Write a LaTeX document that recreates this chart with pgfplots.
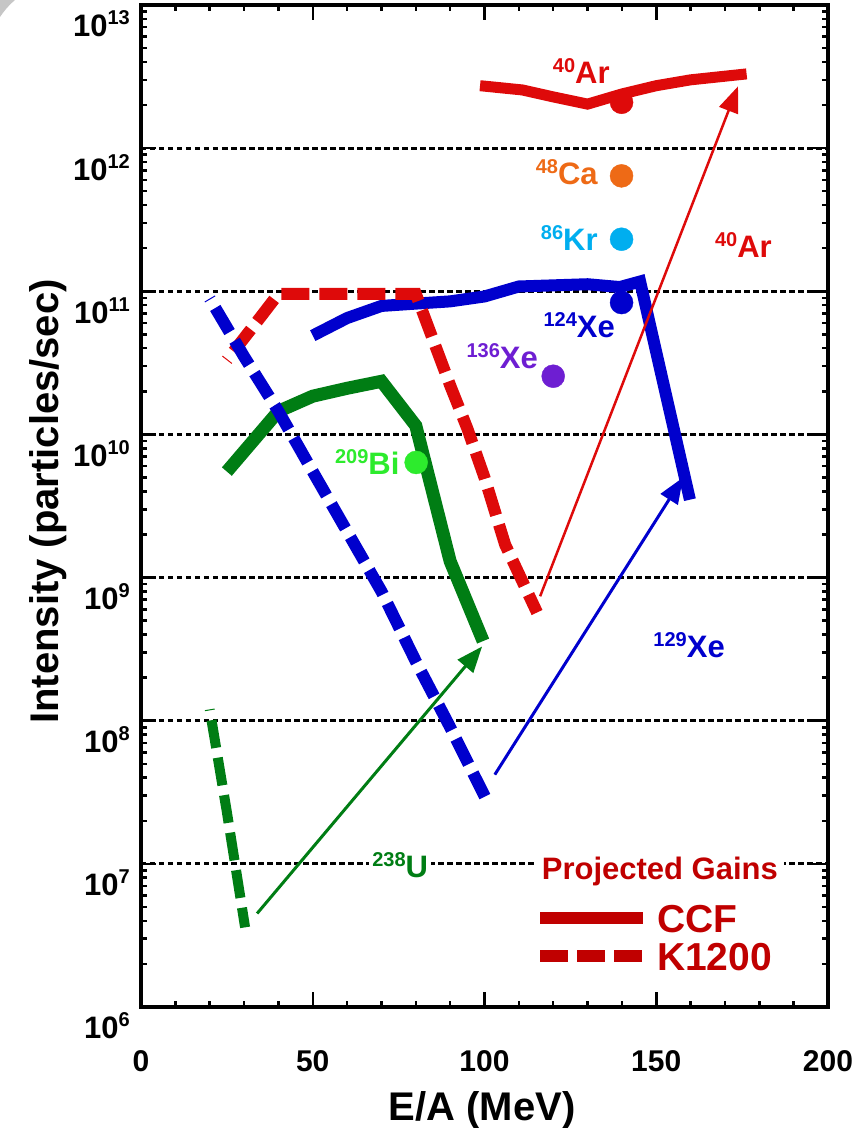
\documentclass[border=0pt]{standalone}
\usepackage{fontspec}
\setmainfont{Liberation Sans}
\usepackage{pgfplots}
\pgfplotsset{compat=1.18}
\usetikzlibrary{arrows.meta}

\newcommand{\fs}[1]{\fontsize{#1}{#1}\selectfont}
% isotope label: mass number raised in front of the symbol
\newcommand{\iso}[2]{\raisebox{11pt}{\fs{20}#1}#2}
% power-of-ten tick label
\newcommand{\dec}[1]{10\raisebox{12pt}{\fs{20}#1}}

\definecolor{cred}{RGB}{222,10,10}
\definecolor{cblue}{RGB}{0,0,205}
\definecolor{cgreen}{RGB}{0,125,20}
\definecolor{cbi}{RGB}{45,235,45}
\definecolor{cca}{RGB}{238,106,22}
\definecolor{ckr}{RGB}{0,174,239}
\definecolor{cxe}{RGB}{110,30,210}
\definecolor{clegend}{RGB}{192,0,0}

\begin{document}
\begin{tikzpicture}[font=\bfseries]
\fill[gray!45] (0pt,1128pt) -- (15pt,1128pt) .. controls (9pt,1123pt) and (4pt,1117pt) .. (0pt,1111pt) -- cycle;
\begin{axis}[
  at={(141pt,121pt)}, anchor=south west,
  scale only axis, width=687pt, height=1002pt,
  xmin=0, xmax=200, ymode=log, ymin=1e6, ymax=1e13,
  xtick={0,50,100,150,200}, xticklabels={0,50,100,150,200},
  minor x tick num=4,
  ytick={1e6,1e7,1e8,1e9,1e10,1e11,1e12,1e13},
  yticklabels={\dec{6},\dec{7},\dec{8},\dec{9},\dec{10},\dec{11},\dec{12},\dec{13}},
  xticklabel style={font=\fs{30}\bfseries, anchor=base, inner sep=0pt, yshift=-65pt},
  yticklabel style={font=\fs{31}\bfseries, anchor=base east, inner sep=0pt, xshift=-11pt, yshift=-32pt},
  major tick length=15pt, minor tick length=6pt,
  every tick/.append style={black, line width=2.5pt},
  axis line style={line width=3.5pt},
  ymajorgrids,
  major grid style={black, line width=3pt, dash pattern=on 5.5pt off 3.5pt},
  clip=false,
  xlabel={E/A (MeV)}, ylabel={Intensity (particles/sec)},
  xlabel style={font=\fs{40}\bfseries, at={(axis description cs:0.4964,-0.1128)}, anchor=base, inner sep=0pt},
  ylabel style={font=\fs{40}\bfseries, at={(axis description cs:-0.1208,0.5045)}, anchor=base, inner sep=0pt},
]
% isotope labels
\node[cred, anchor=base east, inner sep=0pt, font=\fs{31}\bfseries] at (axis cs:136.5,2.81e12) {\iso{40}{Ar}};
\node[cca, anchor=base east, inner sep=0pt, font=\fs{31}\bfseries] at (axis cs:133,5.6e11) {\iso{48}{Ca}};
\node[ckr, anchor=base east, inner sep=0pt, font=\fs{31}\bfseries] at (axis cs:133,1.94e11) {\iso{86}{Kr}};
\node[cblue, anchor=base east, inner sep=0pt, font=\fs{31}\bfseries] at (axis cs:138,4.77e10) {\iso{124}{Xe}};
\node[cred, anchor=base east, inner sep=0pt, font=\fs{31}\bfseries] at (axis cs:183.7,1.73e11) {\iso{40}{Ar}};
\node[cxe, anchor=base east, inner sep=0pt, font=\fs{31}\bfseries] at (axis cs:115.6,2.9e10) {\iso{136}{Xe}};
\node[cbi, fill=white, anchor=base east, inner xsep=1pt, inner ysep=9pt, font=\fs{31}\bfseries] at (axis cs:75.6,5.25e9) {\iso{209}{Bi}};
\node[cblue, anchor=base east, inner sep=0pt, font=\fs{31}\bfseries] at (axis cs:170,2.75e8) {\iso{129}{Xe}};
\node[cgreen, fill=white, anchor=base east, inner xsep=3pt, inner ysep=4pt, font=\fs{31}\bfseries] at (axis cs:84.5,7.98e6) {\iso{238}{U}};

% legend
\node[clegend, fill=white, anchor=base west, inner xsep=6pt, inner ysep=4pt, font=\fs{31}\bfseries] at (axis cs:114.9,7.73e6) {Projected Gains};
\draw[clegend, line width=12pt] (axis cs:116.2,4.19e6) -- (axis cs:146.1,4.19e6);
\draw[clegend, line width=12pt, dash pattern=on 28pt off 9pt] (axis cs:116.2,2.28e6) -- (axis cs:145.9,2.28e6);
\node[clegend, anchor=base west, inner sep=0pt, font=\fs{39}\bfseries] at (axis cs:150.2,3.34e6) {CCF};
\node[clegend, anchor=base west, inner sep=0pt, font=\fs{39}\bfseries] at (axis cs:150.2,1.81e6) {K1200};

% CCF projections (solid)
\addplot[cred, line width=11pt] coordinates {(98.7,2.73e12) (111,2.55e12) (120,2.28e12) (130,2.03e12) (140,2.39e12) (150,2.73e12) (160,3.0e12) (176.3,3.3e12)};
\addplot[cblue, line width=12pt] coordinates {(50,4.9e10) (60,6.5e10) (70,7.9e10) (80,8.2e10) (90,8.5e10) (100,9.2e10) (110,1.08e11) (130,1.12e11) (139.4,1.07e11) (145.3,1.17e11) (159.8,3.5e9)};
\addplot[cgreen, line width=13pt] coordinates {(25,5.5e9) (40,1.45e10) (50,1.85e10) (60,2.1e10) (70,2.35e10) (80,1.15e10) (90,1.3e9) (99.6,3.6e8)};

% K1200 intensities (dashed)
\addplot[cred, line width=12pt, dash pattern=on 28pt off 10pt, dash phase=27pt] coordinates {(25,3.3e10) (35,6.7e10) (40,9.6e10) (80,9.6e10) (85,4.6e10) (90,2.2e10) (95,1.1e10) (100,5e9) (106,1.7e9) (115.3,5.7e8)};
\addplot[cblue, line width=12pt, dash pattern=on 28pt off 10pt, dash phase=27pt] coordinates {(20,8.9e10) (30,3.5e10) (40,1.45e10) (50,5.5e9) (60,2.1e9) (70,8e8) (80,2.6e8) (90,9e7) (100.1,2.95e7)};
\addplot[cgreen, line width=10pt, dash pattern=on 28pt off 10pt, dash phase=27pt] coordinates {(20,1.2e8) (25,2.3e7) (30.3,3.6e6)};

% gain arrows
\addplot[cgreen, line width=3pt, -{Triangle[length=26pt,width=20pt]}] coordinates {(33.8,4.5e6) (99.3,3.3e8)};
\addplot[cblue, line width=3pt, -{Triangle[length=26pt,width=20pt]}] coordinates {(103,4.2e7) (157.8,5e9)};
\addplot[cred, line width=2.5pt, -{Triangle[length=26pt,width=20pt]}] coordinates {(116.2,7.4e8) (173.8,2.7e12)};

% present beam intensities
\addplot[only marks, mark=*, mark size=11.5pt, cred] coordinates {(139.9,2.09e12)};
\addplot[only marks, mark=*, mark size=11.5pt, cca] coordinates {(139.9,6.4e11)};
\addplot[only marks, mark=*, mark size=11.5pt, ckr] coordinates {(139.9,2.31e11)};
\addplot[only marks, mark=*, mark size=11.5pt, cblue] coordinates {(139.9,8.34e10)};
\addplot[only marks, mark=*, mark size=11.5pt, cxe] coordinates {(120,2.55e10)};
\addplot[only marks, mark=*, mark size=11.5pt, cbi] coordinates {(80.1,6.37e9)};
\end{axis}
\pgfresetboundingbox
\useasboundingbox (0,0) rectangle (863pt,1128pt);
\end{tikzpicture}
\end{document}
